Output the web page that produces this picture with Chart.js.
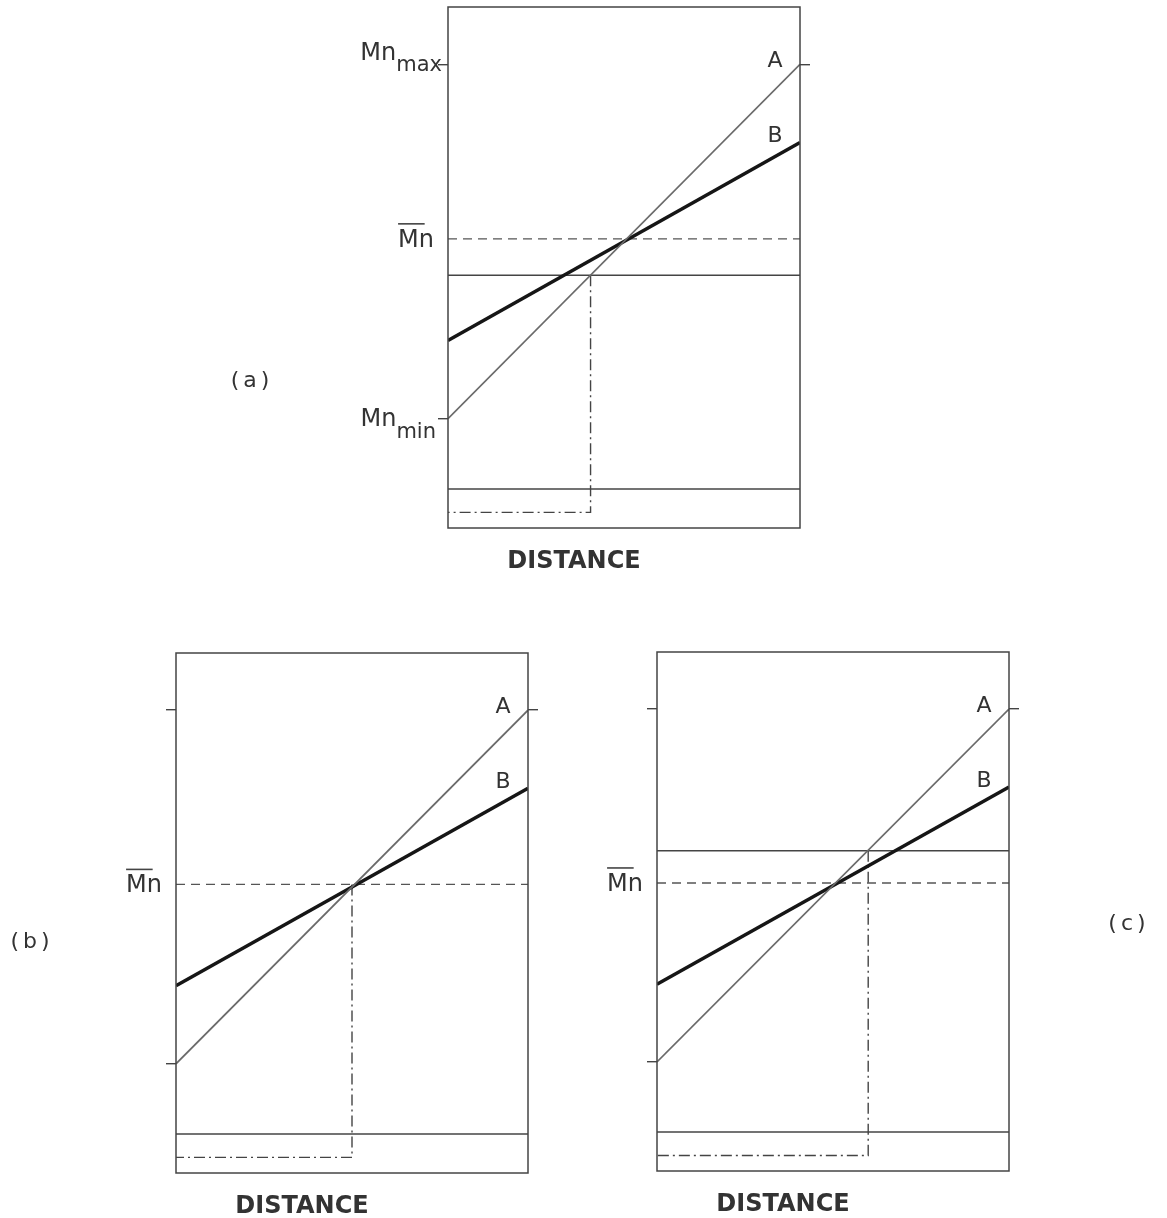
<!DOCTYPE html>
<html>
<head>
<meta charset="utf-8">
<title>Mn profiles along distance</title>
<script src="https://cdn.jsdelivr.net/npm/chart.js@4.4.1/dist/chart.umd.min.js"></script>
<style>
  html, body { margin: 0; padding: 0; background: #fff; }
  #wrap { position: relative; width: 1167px; height: 1218px; }
  canvas { position: absolute; }
</style>
</head>
<body>
<div id="wrap">
  <canvas id="chartA" width="1167" height="600" style="left:0;top:0"></canvas>
  <canvas id="chartB" width="583" height="618" style="left:0;top:600px"></canvas>
  <canvas id="chartC" width="584" height="618" style="left:583px;top:600px"></canvas>
</div>
<script>
// ============ 1. DATA (y in Mn units: 0 = bottom of frame, 100 = top) ============
const distance = [0, 100];          // start / end of the sample
const lineA = [21, 89];             // broad profile (Mn_min -> Mn_max)
const lineB = [36, 74];             // narrow profile
const mnMax = 89;
const mnMin = 21;
const mnBar = 55.5;                 // mean Mn
const cutLevel = [48.5, null, 61.7];   // solid cut line per panel (none in b)
const cutDistance = [40.5, 50, 60];    // where line A meets the cut
const stripLevel = 7.5;             // top of the bottom strip
const traceLevel = 3;               // dash-dot trace in the strip
const panelNames = ['(a)', '(b)', '(c)'];

const INK = '#444';
const TEXT = '#333';

function pts(xs, ys) {
  return xs.map((x, k) => ({ x: x, y: ys[k] }));
}

// ============ 2. FRAME + TEXT PLUGIN ============
const decor = {
  id: 'decor',
  afterDatasetsDraw(chart, args, opts) {
    const { ctx, chartArea: a, scales } = chart;
    const y = scales.y;
    ctx.save();
    ctx.strokeStyle = INK;
    ctx.lineWidth = 1.5;
    ctx.strokeRect(a.left, a.top, a.right - a.left, a.bottom - a.top);

    ctx.fillStyle = TEXT;
    ctx.textBaseline = 'alphabetic';

    // Mn with overline at the mean level
    ctx.font = '24px "DejaVu Sans"';
    ctx.textAlign = 'right';
    const yBar = y.getPixelForValue(mnBar);
    const bx = a.left - 14, bb = yBar + 8;
    ctx.fillText('Mn', bx, bb);
    const w = ctx.measureText('Mn').width;
    ctx.beginPath();
    ctx.lineWidth = 1.6;
    ctx.moveTo(bx - w, bb - 23);
    ctx.lineTo(bx - w + w * 0.74, bb - 23);
    ctx.stroke();

    // Mn_max / Mn_min only in panel (a)
    if (opts.extremes) {
      const drawSub = (main, sub, right, yMain, ySub) => {
        ctx.font = '21px "DejaVu Sans"';
        ctx.textAlign = 'right';
        ctx.fillText(sub, right, ySub);
        const sw = ctx.measureText(sub).width;
        ctx.font = '24px "DejaVu Sans"';
        ctx.fillText(main, right - sw, yMain);
      };
      const yMax = y.getPixelForValue(mnMax);
      const yMin = y.getPixelForValue(mnMin);
      drawSub('Mn', 'max', a.left - 6, yMax - 4, yMax + 7);
      drawSub('Mn', 'min', a.left - 12, yMin + 7, yMin + 19);
    }

    // curve labels
    ctx.font = '22px "DejaVu Sans"';
    ctx.textAlign = 'center';
    ctx.fillText('A', a.right - 25, y.getPixelForValue(lineA[1]) + 3);
    ctx.fillText('B', a.right - 25, y.getPixelForValue(lineB[1]) + 0);

    // axis title
    ctx.font = 'bold 24px "DejaVu Sans"';
    ctx.fillText('DISTANCE', a.left + 126, a.bottom + 40);

    // panel tag
    ctx.font = '22px "DejaVu Sans"';
    ctx.letterSpacing = '4px';
    ctx.textBaseline = 'middle';
    ctx.fillText(opts.name, opts.tagX, opts.tagY);
    ctx.restore();
  }
};

// ============ 3. PANEL FACTORY ============
function makePanel(id, i, pad, tag) {
  const datasets = [
    { label: 'A', data: pts(distance, lineA), borderColor: '#6a6a6a', borderWidth: 1.7 },
    { label: 'B', data: pts(distance, lineB), borderColor: '#161616', borderWidth: 3.4 },
    { label: 'Mn mean', data: pts(distance, [mnBar, mnBar]), borderColor: '#555', borderWidth: 1.4, borderDash: [9, 6] },
    { label: 'strip', data: pts(distance, [stripLevel, stripLevel]), borderColor: INK, borderWidth: 1.5 }
  ];
  if (cutLevel[i] !== null) {
    datasets.push({ label: 'cut', data: pts(distance, [cutLevel[i], cutLevel[i]]), borderColor: INK, borderWidth: 1.5 });
  }
  const start = cutLevel[i] !== null ? cutLevel[i] : mnBar;
  datasets.push({
    label: 'trace',
    data: [
      { x: cutDistance[i], y: start },
      { x: cutDistance[i], y: traceLevel },
      { x: distance[0], y: traceLevel }
    ],
    borderColor: '#444', borderWidth: 1.4, borderDash: [11, 4, 2, 4]
  });

  const tickAxis = (position, values) => ({
    type: 'linear', min: 0, max: 100, position: position,
    afterBuildTicks: s => { s.ticks = values.map(v => ({ value: v })); },
    afterFit: s => { s.width = 12; },
    grid: { drawOnChartArea: false, drawTicks: true, tickLength: 10, color: INK, lineWidth: 1.4 },
    border: { display: false },
    ticks: { display: false }
  });

  return new Chart(document.getElementById(id), {
    type: 'line',
    data: { datasets: datasets },
    options: {
      responsive: false,
      animation: false,
      events: [],
      elements: { point: { radius: 0 }, line: { tension: 0, fill: false } },
      layout: { padding: pad },
      scales: {
        x: { type: 'linear', min: 0, max: 100, display: false },
        y: tickAxis('left', [mnMin, mnMax]),
        yR: tickAxis('right', [mnMax])
      },
      plugins: {
        legend: { display: false },
        tooltip: { enabled: false },
        decor: { name: panelNames[i], extremes: i === 0, tagX: tag[0], tagY: tag[1] }
      }
    },
    plugins: [decor]
  });
}

makePanel('chartA', 0, { left: 436, right: 355, top: 7, bottom: 72 }, [252, 381]);
makePanel('chartB', 1, { left: 164, right: 43, top: 53, bottom: 45 }, [32, 342]);
makePanel('chartC', 2, { left: 62, right: 146, top: 52, bottom: 47 }, [546, 324]);
</script>
</body>
</html>
